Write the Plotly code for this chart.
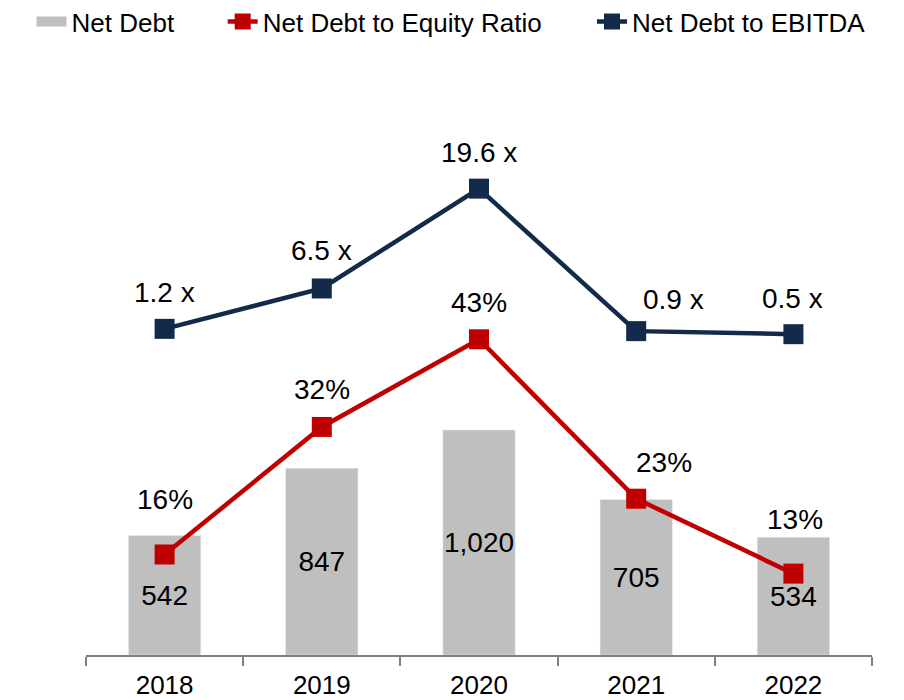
import plotly.graph_objects as go

years = ["2018", "2019", "2020", "2021", "2022"]
net_debt = [542, 847, 1020, 705, 534]
equity_ratio = [0.16, 0.32, 0.43, 0.23, 0.136]
equity_ratio_labels = ["16%", "32%", "43%", "23%", "13%"]
ebitda_multiple = [1.2, 6.5, 19.6, 0.9, 0.5]

FONT = "Liberation Sans, Arial, sans-serif"
GRAY = "#BFBFBF"
RED = "#C00000"
NAVY = "#132A4A"

fig = go.Figure()
fig.add_trace(go.Bar(
    x=years, y=net_debt, name="Net Debt", marker_color=GRAY, width=0.46,
    texttemplate="%{y:,}", textposition="inside", insidetextanchor="middle",
    textangle=0, textfont=dict(size=28, color="black", family=FONT), yaxis="y",
    constraintext="none", showlegend=False,
))
# legend entry for bars drawn as a wide gray swatch
fig.add_trace(go.Scatter(
    x=[None], y=[None], name="Net Debt", mode="lines",
    line=dict(color=GRAY, width=14), yaxis="y", legend="legend",
))
fig.add_trace(go.Scatter(
    x=years, y=equity_ratio, name="Net Debt to Equity Ratio", mode="lines+markers",
    line=dict(color=RED, width=4.5), marker=dict(symbol="square", size=20, color=RED),
    yaxis="y2", legend="legend2",
))
fig.add_trace(go.Scatter(
    x=years, y=ebitda_multiple, name="Net Debt to EBITDA", mode="lines+markers",
    line=dict(color=NAVY, width=4.5), marker=dict(symbol="square", size=20, color=NAVY),
    yaxis="y3", legend="legend3",
))

# label offsets (pixels) for line labels
red_shift = [(0, 55), (0, 37), (0, 37), (28, 36), (2, 54)]
navy_shift = [(0, 36), (0, 38), (0, 36), (37, 32), (-1, 36)]
for i, yr in enumerate(years):
    fig.add_annotation(x=i, xref="x", y=equity_ratio[i], yref="y2",
                       text=equity_ratio_labels[i],
                       showarrow=False, xshift=red_shift[i][0], yshift=red_shift[i][1],
                       font=dict(size=28, color="black", family=FONT))
    fig.add_annotation(x=i, xref="x", y=ebitda_multiple[i], yref="y3",
                       text=f"{ebitda_multiple[i]:.1f} x",
                       showarrow=False, xshift=navy_shift[i][0], yshift=navy_shift[i][1],
                       font=dict(size=28, color="black", family=FONT))

def leg(x):
    return dict(orientation="h", xref="container", yref="paper", x=x, y=1.104,
                xanchor="left", yanchor="top", font=dict(size=26, family=FONT, color="black"),
                bgcolor="rgba(0,0,0,0)", borderwidth=0)

fig.update_layout(
    width=904, height=700,
    margin=dict(l=78, r=40, t=52, b=53, autoexpand=False),
    paper_bgcolor="white", plot_bgcolor="white",
    font=dict(family=FONT, size=26, color="black"),
    showlegend=True,
    uniformtext=dict(mode="show", minsize=28),
    legend=leg(0.026),
    legend2=leg(0.2375),
    legend3=leg(0.646),
    xaxis=dict(type="category", range=[-0.5, 4.5], showline=True, linecolor="#808080",
               linewidth=1.5, ticks="outside", tickson="boundaries", ticklen=9,
               tickcolor="#808080", tickwidth=1.5, tickangle=0, ticklabelstandoff=6,
               tickfont=dict(size=26, family=FONT, color="black"),
               showgrid=False, zeroline=False, automargin=False),
    yaxis=dict(range=[0, 2697], visible=False, showgrid=False),
    yaxis2=dict(range=[0.0339, 0.7804], overlaying="y", visible=False, showgrid=False),
    yaxis3=dict(range=[-41.6, 36.48], overlaying="y", visible=False, showgrid=False),
)

fig.write_html("out.html")
